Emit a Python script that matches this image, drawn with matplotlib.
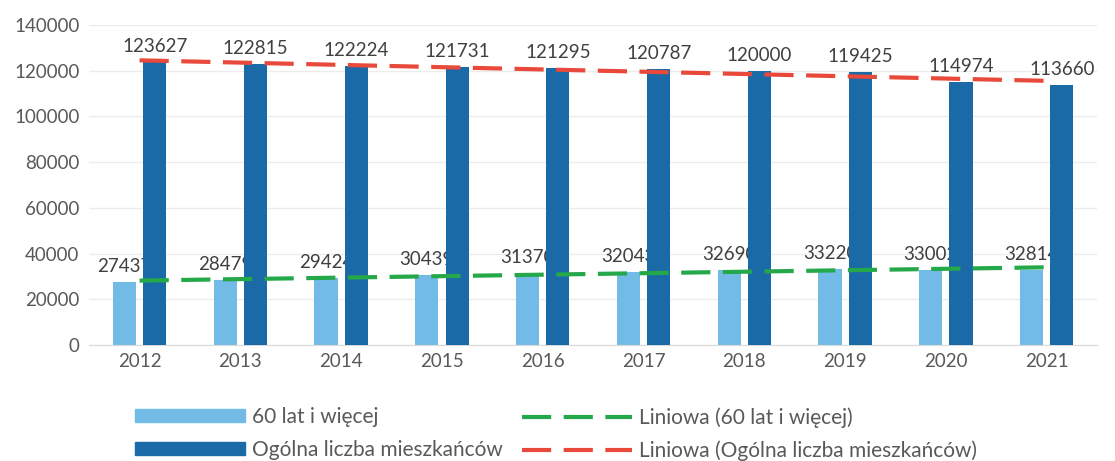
import matplotlib
matplotlib.use('Agg')
import matplotlib.pyplot as plt
from matplotlib.patches import Patch
from matplotlib.lines import Line2D
import numpy as np

years = ['2012', '2013', '2014', '2015', '2016', '2017', '2018', '2019', '2020', '2021']
seniors = [27437, 28479, 29424, 30439, 31370, 32043, 32690, 33220, 33002, 32814]
total = [123627, 122815, 122224, 121731, 121295, 120787, 120000, 119425, 114974, 113660]

light = '#72bbe6'
dark = '#1b6aa8'
green = '#25a84a'
red = '#e8493a'

plt.rcParams['font.family'] = ['Lato', 'DejaVu Sans']

fig = plt.figure(figsize=(11.15, 4.61), dpi=100)
ax = fig.add_axes([0.080, 0.2516, 0.904, 0.6942])

x = np.arange(len(years))
w = 0.23
ax.bar(x - 0.15, seniors, width=w, color=light, zorder=2)
ax.bar(x + 0.15, total, width=w, color=dark, zorder=4)

# data labels
for i in range(len(years)):
    ax.annotate(str(seniors[i]), (x[i] - 0.15, seniors[i]), xytext=(0, 5),
                textcoords='offset points', ha='center', va='bottom',
                fontsize=13.5, color='#404040', zorder=3)
    ax.annotate(str(total[i]), (x[i] + 0.15, total[i]), xytext=(0, 5),
                textcoords='offset points', ha='center', va='bottom',
                fontsize=13.5, color='#404040', zorder=6)

# linear trend lines (Excel "Liniowa")
k1, b1 = np.polyfit(x, seniors, 1)
k2, b2 = np.polyfit(x, total, 1)
ax.plot(x, k1 * x + b1, color=green, lw=3, dashes=(7, 3), zorder=5)
ax.plot(x, k2 * x + b2, color=red, lw=3, dashes=(7, 3), zorder=5)

ax.set_xlim(-0.5, 9.5)
ax.set_ylim(0, 140000)
ax.set_yticks(range(0, 140001, 20000))
ax.set_xticks(x)
ax.set_xticklabels(years)
ax.tick_params(axis='both', length=0, labelsize=13.5, labelcolor='#595959')
ax.tick_params(axis='y', pad=7)
ax.tick_params(axis='x', pad=6)
ax.grid(axis='y', color='#ececec', lw=1, zorder=0)
ax.set_axisbelow(True)
for s in ['top', 'right', 'left']:
    ax.spines[s].set_visible(False)
ax.spines['bottom'].set_color('#d9d9d9')

# legend, two columns placed separately
h1 = [Patch(color=light), Patch(color=dark)]
h2 = [Line2D([], [], color=green, lw=3, dashes=(7, 3)),
      Line2D([], [], color=red, lw=3, dashes=(7, 3))]
leg_kw = dict(frameon=False, fontsize=15, handlelength=5.3, handleheight=0.6,
              handletextpad=0.3, labelspacing=0.62, borderpad=0, borderaxespad=0,
              labelcolor='#595959')
fig.legend(h1, ['60 lat i więcej', 'Ogólna liczba mieszkańców'],
           loc='upper left', bbox_to_anchor=(135 / 1115, 1 - 407 / 461), **leg_kw)
fig.legend(h2, ['Liniowa (60 lat i więcej)', 'Liniowa (Ogólna liczba mieszkańców)'],
           loc='upper left', bbox_to_anchor=(522 / 1115, 1 - 407 / 461), **leg_kw)

fig.savefig('out.png', dpi=100)
